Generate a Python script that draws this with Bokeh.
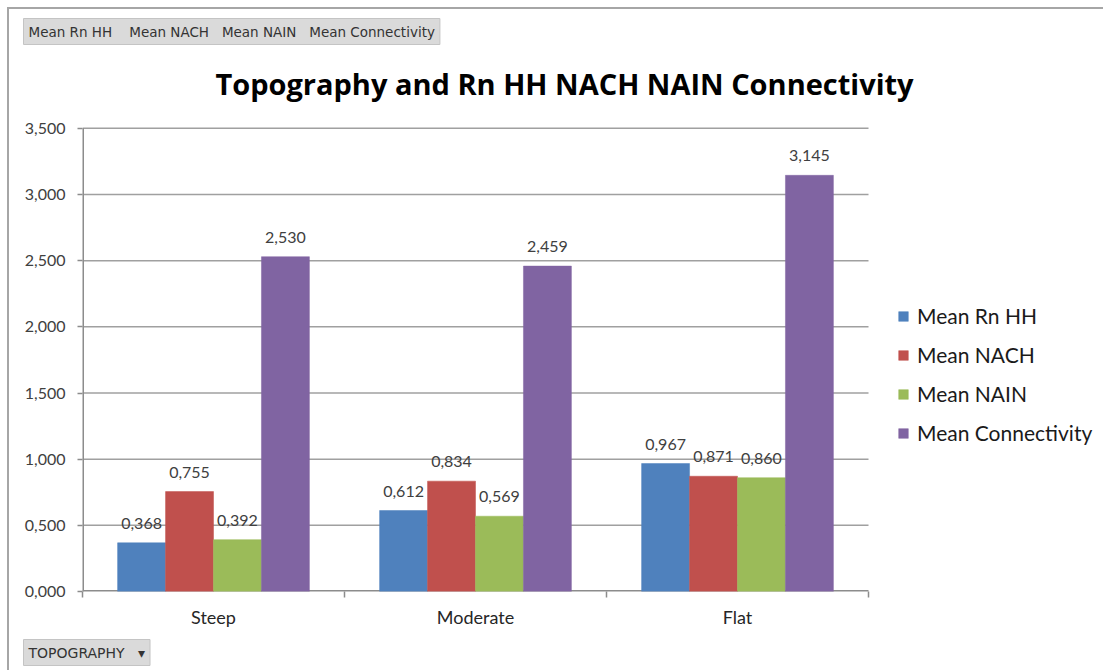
from bokeh.plotting import figure
from bokeh.models import (Range1d, FixedTicker, CustomJSTickFormatter, ColumnDataSource,
                          LabelSet, Label, Title, LinearAxis, Legend, LegendItem)
from bokeh.core.properties import value
from bokeh.embed import file_html
from bokeh.resources import INLINE

# ---------------- data ----------------
categories = ["Steep", "Moderate", "Flat"]
series_names = ["Mean Rn HH", "Mean NACH", "Mean NAIN", "Mean Connectivity"]
mean_rn_hh = [0.368, 0.612, 0.967]
mean_nach = [0.755, 0.834, 0.871]
mean_nain = [0.392, 0.569, 0.860]
mean_connectivity = [2.530, 2.459, 3.145]
y_ticks = [0.0, 0.5, 1.0, 1.5, 2.0, 2.5, 3.0, 3.5]
title_text = "Topography and Rn HH NACH NAIN Connectivity"
field_buttons = ["Mean Rn HH", "Mean NACH", "Mean NAIN", "Mean Connectivity"]
axis_button = "TOPOGRAPHY"

colors = ["#4f81bd", "#c0504d", "#9bbb59", "#8064a2"]
all_series = [mean_rn_hh, mean_nach, mean_nain, mean_connectivity]

# ---------------- geometry (reference pixels) ----------------
W, H = 1096, 663
ORG = 9                                 # canvas origin in the page
TOP = 44                                # top of the drawing area below the button bar
FL, FR, FT, FB = 82, 868, 128, 592      # plot area of the chart
NCAT, YMAX = len(categories), y_ticks[-1]
PX_X = (FR - FL) / NCAT
PX_Y = (FB - FT) / YMAX

def X(px):
    return (px - FL) / PX_X

def Y(py):
    return (FB - py) / PX_Y

p = figure(width=W, height=H, output_backend="svg", toolbar_location=None, title=None,
           x_range=Range1d(0, X(ORG + W)), y_range=Range1d(0, Y(TOP)),
           x_axis_type=None, y_axis_type=None,
           min_border_left=FL - ORG, min_border_top=TOP - ORG,
           min_border_right=0, min_border_bottom=H - (FB - ORG))
p.outline_line_color = None
p.background_fill_color = "white"
p.border_fill_color = "white"
p.styles = {"margin-left": "7px", "margin-top": "7px",
            "border-top": "2px solid #a6a6a6", "border-left": "2px solid #a6a6a6"}

font = "Lato"
grey_txt = "#404040"
axis_col = "#8c8c8c"

# y axis (ticks + labels); its line is drawn below only over the plot area
yaxis = LinearAxis(ticker=FixedTicker(ticks=y_ticks),
                   formatter=CustomJSTickFormatter(code="return tick.toFixed(3).replace('.', ',');"))
yaxis.axis_line_color = None
yaxis.major_tick_line_color = axis_col
yaxis.major_tick_line_width = 1.5
yaxis.major_tick_out = 5
yaxis.major_tick_in = 0
yaxis.minor_tick_line_color = None
yaxis.major_label_text_font = font
yaxis.major_label_text_font_size = "16px"
yaxis.major_label_text_color = grey_txt
yaxis.major_label_standoff = 12
p.add_layout(yaxis, "left")

# x axis: category names at centres, ticks at category boundaries
centers = [i + 0.5 for i in range(NCAT)]
xaxis = LinearAxis(ticker=FixedTicker(ticks=centers, minor_ticks=list(range(NCAT + 1))))
xaxis.major_label_overrides = {c: name for c, name in zip(centers, categories)}
xaxis.axis_line_color = None
xaxis.major_tick_line_color = None
xaxis.minor_tick_line_color = axis_col
xaxis.minor_tick_line_width = 1.5
xaxis.minor_tick_out = 6
xaxis.minor_tick_in = 0
xaxis.major_label_text_font = font
xaxis.major_label_text_font_size = "18px"
xaxis.major_label_text_color = "#262626"
xaxis.major_label_standoff = 8
p.add_layout(xaxis, "below")

p.xgrid.visible = False
p.ygrid.visible = False

# gridlines and axis lines, limited to the plot area
p.segment(x0=0, x1=NCAT, y0=y_ticks[1:], y1=y_ticks[1:], line_color="#a0a0a0", line_width=1.5)
p.segment(x0=[0], x1=[NCAT], y0=[0], y1=[0], line_color=axis_col, line_width=3)
p.segment(x0=[0], x1=[0], y0=[0], y1=[YMAX], line_color=axis_col, line_width=3)

# bars
bw = 0.183
items = []
for k, (name, vals, col) in enumerate(zip(series_names, all_series, colors)):
    off = (k - 1.5) * bw
    src = ColumnDataSource(dict(x=[c + off for c in centers], top=vals,
                                lab=[f"{v:.3f}".replace(".", ",") for v in vals]))
    r = p.vbar(x="x", top="top", width=bw, bottom=0, source=src, fill_color=col,
               line_color=col, line_width=0.5)
    items.append(LegendItem(label=name, renderers=[r]))
    p.add_layout(LabelSet(x="x", y="top", text="lab", source=src, text_align="center",
                          text_baseline="bottom", y_offset=14, text_font=value(font),
                          text_font_size=value("16px"), text_color=value(grey_txt)))

# legend
lg = Legend(items=items, location=(897 - FL, FB - 446))
lg.padding = 0
lg.margin = 0
lg.border_line_color = None
lg.background_fill_alpha = 0
lg.glyph_width = 12
lg.glyph_height = 12
lg.label_height = 20
lg.spacing = 14
lg.label_standoff = 8
lg.label_text_font = font
lg.label_text_font_size = "21px"
lg.label_text_color = "#1a1a1a"
p.add_layout(lg)

# title
p.add_layout(Label(x=X(564), y=Y(83), text=title_text, text_align="center",
                   text_baseline="alphabetic", text_font="Open Sans", text_font_style="bold",
                   text_font_size="29px", text_color="black"))

# pivot field buttons (top bar)
gaps = ["\u00a0" * 4, "\u00a0" * 3, "\u00a0" * 3]
bar_text = field_buttons[0] + "".join(g + t for g, t in zip(gaps, field_buttons[1:]))
p.add_layout(Title(text=bar_text, align="left", offset=-59, standoff=0,
                   text_font="DejaVu Sans", text_font_size="13.5px",
                   text_font_style="normal", text_color="#333333",
                   background_fill_color="#dadada", border_line_color="#c4c4c4",
                   padding=5), "above")

# axis field button (bottom)
p.add_layout(Title(text=axis_button + "\u00a0" * 3 + "\u25be", align="left", offset=-59,
                   standoff=14, text_font="DejaVu Sans", text_font_size="14px",
                   text_font_style="normal", text_color="#333333",
                   background_fill_color="#dadada", border_line_color="#c4c4c4",
                   padding=5), "below")

open("out.html", "w").write(file_html(p, INLINE))
